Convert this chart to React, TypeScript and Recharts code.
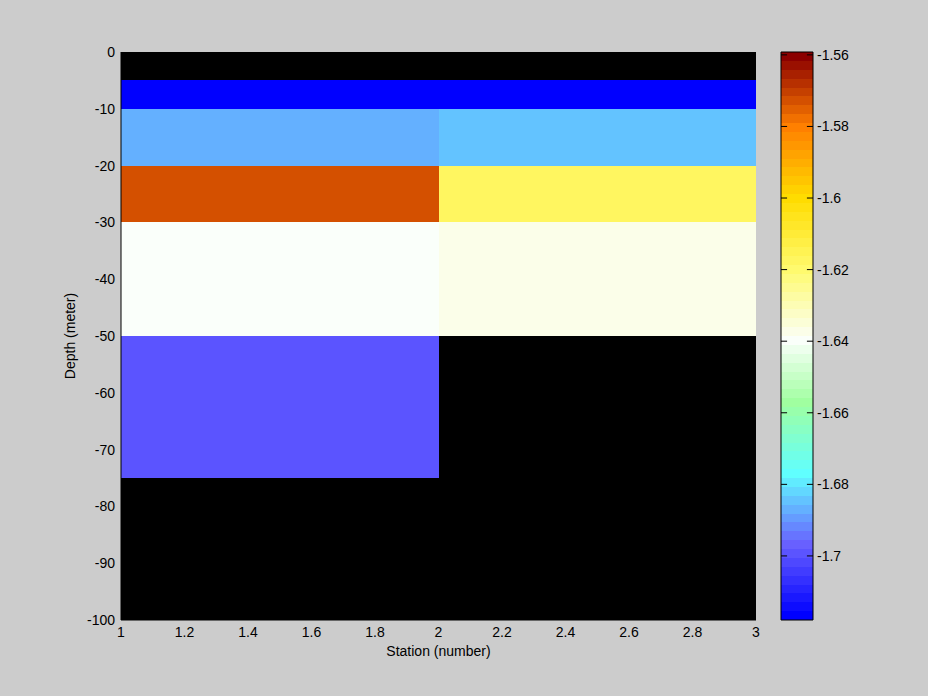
import React from 'react';
import { ComposedChart, XAxis, YAxis, ReferenceArea, ReferenceLine, Label } from 'recharts';

// ---- Data ----
const stationEdges = [1, 2, 3];
const depthEdges = [0, -5, -10, -20, -30, -50, -75, -100];
// one value per depth layer (between consecutive depthEdges); null = no data
const station1Values: (number | null)[] = [null, -1.717, -1.687, -1.573, -1.64, -1.699, null];
const station2Values: (number | null)[] = [null, -1.717, -1.684, -1.617, -1.637, null, null];
const stationValues = [station1Values, station2Values];

const xTicks = [1, 1.2, 1.4, 1.6, 1.8, 2, 2.2, 2.4, 2.6, 2.8, 3];
const yTicks = [0, -10, -20, -30, -40, -50, -60, -70, -80, -90, -100];
const colorTicks = [-1.7, -1.68, -1.66, -1.64, -1.62, -1.6, -1.58, -1.56];
const colorMin = -1.7179;
const colorMax = -1.5592;
const colorLevels = 64;

// colormap anchor stops: [band index, r, g, b]
const colormapStops: [number, number, number, number][] = [
  [0, 0, 0, 255],
  [8, 104, 96, 255],
  [16, 96, 255, 255],
  [24, 160, 255, 160],
  [31, 250, 255, 250],
  [39, 255, 250, 110],
  [47, 255, 220, 0],
  [55, 255, 128, 0],
  [63, 139, 0, 0],
];

const FONT = '"Liberation Sans", Arial, Helvetica, sans-serif';
const FS = 14;

function bandColor(i: number): string {
  for (let k = 0; k < colormapStops.length - 1; k++) {
    const a = colormapStops[k];
    const b = colormapStops[k + 1];
    if (i >= a[0] && i <= b[0]) {
      const t = (i - a[0]) / (b[0] - a[0]);
      const r = Math.round(a[1] + (b[1] - a[1]) * t);
      const g = Math.round(a[2] + (b[2] - a[2]) * t);
      const bl = Math.round(a[3] + (b[3] - a[3]) * t);
      return `rgb(${r},${g},${bl})`;
    }
  }
  const l = colormapStops[colormapStops.length - 1];
  return `rgb(${l[1]},${l[2]},${l[3]})`;
}

function valueColor(v: number): string {
  let idx = Math.floor(((v - colorMin) / (colorMax - colorMin)) * colorLevels);
  idx = Math.max(0, Math.min(colorLevels - 1, idx));
  return bandColor(idx);
}

const bands = Array.from({ length: colorLevels }, (_, i) => i);
const step = (colorMax - colorMin) / colorLevels;

const YLabel = (props: any) => {
  const vb = props.viewBox || { x: 61, y: 52, width: 60, height: 568 };
  const x = vb.x + 14;
  const y = vb.y + vb.height / 2;
  return (
    <text
      x={x}
      y={y}
      transform={`rotate(-90, ${x}, ${y})`}
      textAnchor="middle"
      fill="#000"
      fontSize={FS}
      fontFamily={FONT}
    >
      Depth (meter)
    </text>
  );
};

export default function App() {
  const tickStyle = { fill: '#000', fontSize: FS, fontFamily: FONT };
  return (
    <div
      style={{
        position: 'fixed',
        left: 0,
        top: 0,
        width: 928,
        height: 696,
        background: '#cccccc',
        overflow: 'hidden',
      }}
    >
      <div style={{ position: 'absolute', left: 0, top: 0 }}>
        <ComposedChart
          width={928}
          height={696}
          data={[]}
          margin={{ top: 52, left: 61, right: 172, bottom: 26 }}
        >
          <XAxis
            type="number"
            dataKey="x"
            domain={[stationEdges[0], stationEdges[stationEdges.length - 1]]}
            ticks={xTicks}
            interval={0}
            height={50}
            tickLine={false}
            tickSize={0}
            tickMargin={7}
            axisLine={{ stroke: '#000' }}
            tick={tickStyle}
            allowDataOverflow
          >
            <Label
              value="Station (number)"
              position="insideBottom"
              offset={14}
              fill="#000"
              fontSize={FS}
              fontFamily={FONT}
            />
          </XAxis>
          <YAxis
            type="number"
            domain={[depthEdges[depthEdges.length - 1], depthEdges[0]]}
            ticks={yTicks}
            interval={0}
            width={60}
            tickLine={false}
            tickSize={0}
            tickMargin={6}
            axisLine={{ stroke: '#000' }}
            tick={tickStyle}
            allowDataOverflow
          >
            <Label content={<YLabel />} />
          </YAxis>
          <ReferenceArea
            x1={stationEdges[0]}
            x2={stationEdges[stationEdges.length - 1]}
            y1={depthEdges[depthEdges.length - 1]}
            y2={depthEdges[0]}
            fill="#000"
            fillOpacity={1}
            stroke="none"
            ifOverflow="visible"
          />
          {stationValues.map((col, s) =>
            col.map((v, d) =>
              v == null ? null : (
                <ReferenceArea
                  key={`c-${s}-${d}`}
                  x1={stationEdges[s]}
                  x2={stationEdges[s + 1]}
                  y1={depthEdges[d + 1]}
                  y2={depthEdges[d]}
                  fill={valueColor(v)}
                  fillOpacity={1}
                  stroke="none"
                  ifOverflow="visible"
                  shapeRendering="crispEdges"
                />
              )
            )
          )}
        </ComposedChart>
      </div>
      <div style={{ position: 'absolute', left: 0, top: 0 }}>
        <ComposedChart
          width={928}
          height={696}
          data={[]}
          margin={{ top: 52, left: 781, right: 55, bottom: 76 }}
        >
          <XAxis type="number" dataKey="x" domain={[0, 1]} hide allowDataOverflow />
          <YAxis
            type="number"
            orientation="right"
            domain={[colorMin, colorMax]}
            ticks={colorTicks}
            interval={0}
            width={60}
            tickLine={false}
            tickSize={0}
            tickMargin={4}
            axisLine={false}
            tick={tickStyle}
            allowDataOverflow
          />
          {bands.map((i) => (
            <ReferenceArea
              key={`b-${i}`}
              x1={0}
              x2={1}
              y1={colorMin + i * step}
              y2={colorMin + (i + 1) * step}
              fill={bandColor(i)}
              fillOpacity={1}
              stroke="none"
              ifOverflow="visible"
              shapeRendering="crispEdges"
            />
          ))}
          {colorTicks.map((t) => (
            <ReferenceLine
              key={`tl-${t}`}
              segment={[{ x: 0, y: t }, { x: 0.19, y: t }]}
              stroke="#000"
              strokeWidth={1}
              ifOverflow="visible"
            />
          ))}
          {colorTicks.map((t) => (
            <ReferenceLine
              key={`tr-${t}`}
              segment={[{ x: 0.81, y: t }, { x: 1, y: t }]}
              stroke="#000"
              strokeWidth={1}
              ifOverflow="visible"
            />
          ))}
          <ReferenceArea
            x1={0}
            x2={1}
            y1={colorMin}
            y2={colorMax}
            fill="none"
            fillOpacity={0}
            stroke="#000"
            strokeWidth={1}
            ifOverflow="visible"
          />
        </ComposedChart>
      </div>
    </div>
  );
}
